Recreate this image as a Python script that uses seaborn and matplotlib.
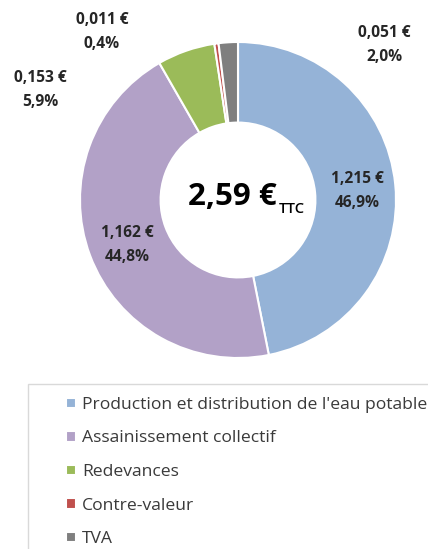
import matplotlib
matplotlib.use("Agg")
import matplotlib.pyplot as plt
import seaborn as sns
from matplotlib.patches import Rectangle

sns.set_theme(style="white")
plt.rcParams['font.family'] = ['Open Sans', 'DejaVu Sans']

categories = ["Production et distribution de l'eau potable",
              "Assainissement collectif", "Redevances", "Contre-valeur", "TVA"]
values = [1.215, 1.162, 0.153, 0.011, 0.051]
percents = ["46,9%", "44,8%", "5,9%", "0,4%", "2,0%"]
value_labels = ["1,215 €", "1,162 €", "0,153 €", "0,011 €", "0,051 €"]
total_label = "2,59 €"
colors = ["#95B3D7", "#B2A1C7", "#9BBB59", "#C0504D", "#7F7F7F"]

W, H = 428, 549
fig = plt.figure(figsize=(W / 100, H / 100), dpi=100)
ax = fig.add_axes([0, 0, 1, 1])

cx, cy, R = 238, H - 200, 158
wedges, _ = ax.pie(values, colors=colors, startangle=90, counterclock=False,
                   center=(cx, cy), radius=R, frame=True,
                   wedgeprops=dict(width=R * 0.51, edgecolor='white', linewidth=1.5))
ax.set_xlim(0, W)
ax.set_ylim(0, H)
ax.axis('off')
ax.set_aspect('auto')

label_pos = [(357, 191), (127, 245), (40, 90), (102, 32), (384, 45)]
for (px, py), v, p in zip(label_pos, value_labels, percents):
    ax.text(px, H - py, f"{v}\n{p}", ha='center', va='center', fontsize=11.2,
            fontweight='bold', color='#262626', linespacing=1.6)

ax.text(277, H - 197, total_label, ha='right', va='center', fontsize=22.5,
        fontweight='bold', color='black')
ax.text(279, H - 209, "TTC", ha='left', va='center', fontsize=10.5,
        fontweight='semibold', color='black')

ax.add_patch(Rectangle((28, -10), 500, H - 384 + 10, facecolor='white',
                       edgecolor='#D9D9D9', linewidth=1))

leg = fig.legend(wedges, categories, loc='upper left',
                 bbox_to_anchor=(66 / W, 1 - 397 / H), frameon=False,
                 fontsize=12.6, handlelength=0.55, handleheight=0.55,
                 handletextpad=0.35, labelspacing=1.0, borderpad=0, borderaxespad=0,
                 labelcolor='#3A3A3A')

fig.savefig("out.png", dpi=100)
